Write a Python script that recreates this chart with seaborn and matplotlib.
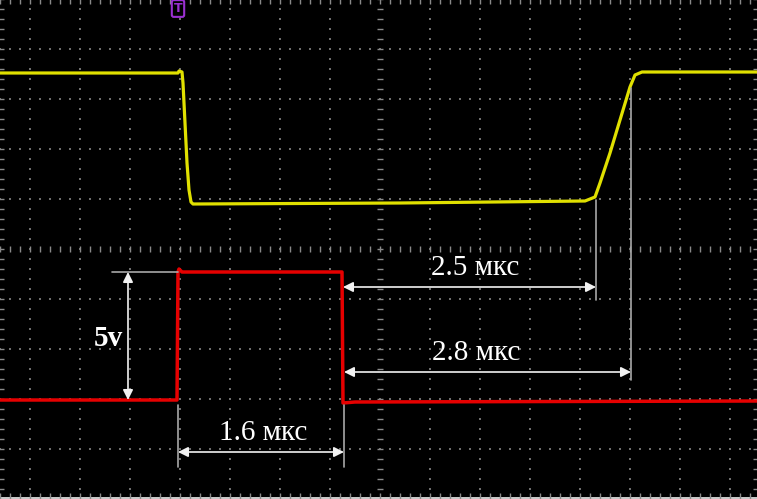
import numpy as np
import pandas as pd
import matplotlib
matplotlib.use("Agg")
import matplotlib.pyplot as plt
import seaborn as sns

# ---- data (time in µs, 0.5 µs/div; voltage in V, 2 V/div) ----
yellow_t = [-3.80, -2.02, -2.01, -1.98, -1.97, -1.95, -1.93, -1.91, -1.89, -1.87,
            0.20, 2.05, 2.15, 2.20, 2.30, 2.40, 2.50, 2.55, 2.62, 3.77]
yellow_v = [7.04, 7.04, 7.12, 7.08, 6.64, 5.04, 3.44, 2.36, 1.88, 1.80,
            1.84, 1.92, 2.08, 2.64, 3.84, 5.16, 6.48, 6.96, 7.08, 7.08]
red_t = [-3.80, -2.03, -2.02, -2.01, -1.98, -0.38, -0.37, -0.25, 3.77]
red_v = [-6.04, -6.04, -0.92, -0.80, -0.92, -0.92, -6.16, -6.12, -6.08]

labels = ["5v", "1.6 мкс", "2.5 мкс", "2.8 мкс"]

XLIM = (-3.80, 3.77)
YLIM = (-10.0, 9.96)

sns.set_style("dark", {"axes.facecolor": "black", "figure.facecolor": "black"})
plt.rcParams['font.family'] = ['Liberation Serif', 'DejaVu Serif']

fig = plt.figure(figsize=(7.57, 4.99), dpi=100)
ax = fig.add_axes([0, 0, 1, 1])
ax.set_facecolor("black")
ax.set_xlim(*XLIM)
ax.set_ylim(*YLIM)
ax.set_xticks([]); ax.set_yticks([])
for s in ax.spines.values():
    s.set_visible(False)

grid_c = "#6e6e6e"
tick_c = "#8a8a8a"
# dotted graticule
gx = np.arange(-3.5, 3.51, 0.5)
gy = np.arange(-8, 8.01, 2)
dots_y = np.arange(-10, 10.01, 0.4)
dots_x = np.arange(-3.8, 3.8, 0.1)
for x in gx:
    if abs(x) > 1e-6:
        ax.scatter(np.full_like(dots_y, x), dots_y, s=0.8, marker='s', color=grid_c, lw=0, zorder=1)
for y in gy:
    if abs(y) > 1e-6:
        ax.scatter(dots_x, np.full_like(dots_x, y), s=0.8, marker='s', color=grid_c, lw=0, zorder=1)
# center lines with tick marks
ax.plot(dots_x, np.zeros_like(dots_x), ls='none', marker='|', ms=4, mew=1, color=tick_c, zorder=1)
ax.plot(np.zeros_like(dots_y), dots_y, ls='none', marker='_', ms=4, mew=1, color=tick_c, zorder=1)
# border ticks
ax.plot(dots_x, np.full_like(dots_x, YLIM[1]), ls='none', marker='|', ms=6, mew=1, color=tick_c, zorder=1)
ax.plot(np.full_like(dots_y, XLIM[0]), dots_y, ls='none', marker='_', ms=6, mew=1, color=tick_c, zorder=1)
ax.plot(np.full_like(dots_y, XLIM[1]), dots_y, ls='none', marker='_', ms=6, mew=1, color=tick_c, zorder=1)
ax.axhspan(YLIM[0], YLIM[0] + 0.08, color="#c8c8c8", lw=0, zorder=1)
ax.plot(dots_x, np.full_like(dots_x, YLIM[0]), ls='none', marker='|', ms=8, mew=1, color=tick_c, zorder=1)

# traces
df_y = pd.DataFrame({"t": yellow_t, "v": yellow_v})
df_r = pd.DataFrame({"t": red_t, "v": red_v})
sns.lineplot(data=df_y, x="t", y="v", ax=ax, color="#e0e000", lw=2.3, sort=False, zorder=3)
sns.lineplot(data=df_r, x="t", y="v", ax=ax, color="#e60000", lw=2.5, sort=False, zorder=3)
ax.set_xlabel(""); ax.set_ylabel("")
ax.set_xlim(*XLIM); ax.set_ylim(*YLIM)
ax.set_xticks([]); ax.set_yticks([])

# trigger marker
ax.text(-2.02, 9.62, "T", color="#9a30d0", fontsize=9, fontweight="bold", family="DejaVu Sans",
        ha="center", va="center", zorder=5,
        bbox=dict(boxstyle="round,pad=0.15", fc="black", ec="#9a30d0", lw=1.5))

line_c = "#a8a8a8"
arr_c = "#f2f2f2"
aprops = dict(arrowstyle="<|-|>", color=arr_c, lw=1.2, mutation_scale=15, shrinkA=0, shrinkB=0)
fs = 21

# 5v
ax.plot([-2.68, -2.02], [-0.92, -0.92], color=line_c, lw=1.2, zorder=4)
ax.annotate("", xy=(-2.52, -0.92), xytext=(-2.52, -6.04), arrowprops=aprops, zorder=4)
ax.text(-2.72, -3.56, labels[0], color="white", fontsize=fs, fontweight="bold",
        ha="center", va="center", zorder=5)

# 1.6 мкс
ax.plot([-2.02, -2.02], [-6.24, -8.72], color=line_c, lw=1.2, zorder=4)
ax.plot([-0.36, -0.36], [-6.24, -8.72], color=line_c, lw=1.2, zorder=4)
ax.annotate("", xy=(-2.02, -8.12), xytext=(-0.36, -8.12), arrowprops=aprops, zorder=4)
ax.text(-1.17, -7.36, labels[1], color="white", fontsize=fs, ha="center", va="center", zorder=5)

# 2.5 мкс
ax.plot([2.16, 2.16], [1.96, -2.04], color=line_c, lw=1.2, zorder=4)
ax.annotate("", xy=(-0.37, -1.52), xytext=(2.16, -1.52), arrowprops=aprops, zorder=4)
ax.text(0.95, -0.76, labels[2], color="white", fontsize=fs, ha="center", va="center", zorder=5)

# 2.8 мкс
ax.plot([2.51, 2.51], [6.44, -5.24], color=line_c, lw=1.2, zorder=4)
ax.annotate("", xy=(-0.36, -4.92), xytext=(2.51, -4.92), arrowprops=aprops, zorder=4)
ax.text(0.96, -4.16, labels[3], color="white", fontsize=fs, ha="center", va="center", zorder=5)

fig.savefig("out.png", dpi=100, facecolor="black")
